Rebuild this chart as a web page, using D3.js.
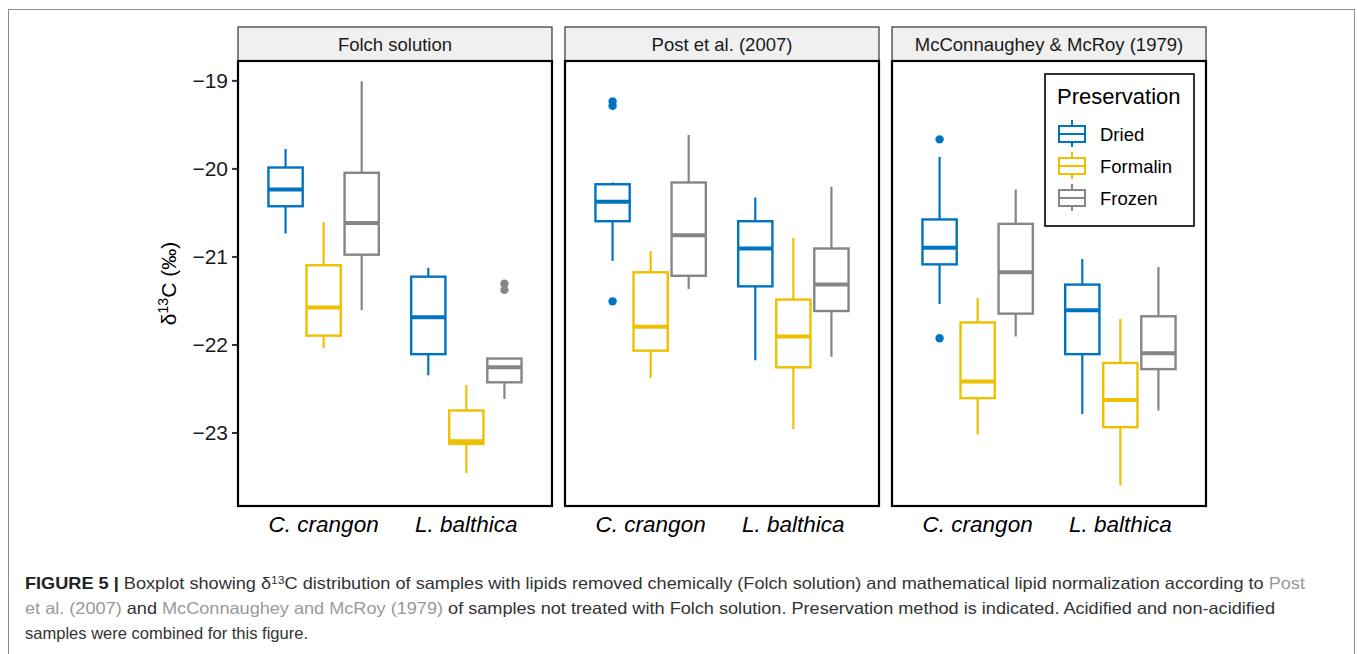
<!DOCTYPE html>
<html lang="en">
    <head>
        <meta charset="utf-8">
        <title>Figure 5 boxplot</title>
        <script src="https://d3js.org/d3.v7.min.js"></script>
        <style type="text/css">
            body { margin: 0; background: #fff; }
            text { font-family: "Liberation Sans", Arial, sans-serif; }
        </style>
    </head>
    <body>
        <script>
            // data
            var methods = ["Folch solution", "Post et al. (2007)", "McConnaughey & McRoy (1979)"];
            var species = ["C. crangon", "L. balthica"];
            var preservations = ["Dried", "Formalin", "Frozen"];
            var colors = ["#0073C2", "#EFC000", "#868686"];
            var yTicks = [-23, -22, -21, -20, -19];

            // [species, preservation, lowerWhisker, q1, median, q3, upperWhisker, outliers]
            var folch = [
                ["C. crangon", "Dried", -20.74, -20.43, -20.24, -19.99, -19.78, []],
                ["C. crangon", "Formalin", -22.04, -21.90, -21.58, -21.10, -20.61, []],
                ["C. crangon", "Frozen", -21.61, -20.98, -20.62, -20.05, -19.01, []],
                ["L. balthica", "Dried", -22.35, -22.11, -21.69, -21.23, -21.13, []],
                ["L. balthica", "Formalin", -23.46, -23.13, -23.10, -22.75, -22.46, []],
                ["L. balthica", "Frozen", -22.62, -22.43, -22.26, -22.16, -22.15, [-21.31, -21.38]]
            ];
            var post = [
                ["C. crangon", "Dried", -21.05, -20.60, -20.38, -20.18, -20.16, [-19.24, -19.29, -21.51]],
                ["C. crangon", "Formalin", -22.38, -22.07, -21.80, -21.18, -20.94, []],
                ["C. crangon", "Frozen", -21.37, -21.22, -20.76, -20.16, -19.62, []],
                ["L. balthica", "Dried", -22.18, -21.34, -20.91, -20.60, -20.33, []],
                ["L. balthica", "Formalin", -22.96, -22.26, -21.91, -21.49, -20.79, []],
                ["L. balthica", "Frozen", -22.14, -21.62, -21.32, -20.91, -20.21, []]
            ];
            var mcconnaughey = [
                ["C. crangon", "Dried", -21.54, -21.09, -20.90, -20.58, -19.87, [-19.67, -21.93]],
                ["C. crangon", "Formalin", -23.02, -22.61, -22.42, -21.75, -21.47, []],
                ["C. crangon", "Frozen", -21.91, -21.65, -21.18, -20.63, -20.24, []],
                ["L. balthica", "Dried", -22.79, -22.11, -21.61, -21.32, -21.03, []],
                ["L. balthica", "Formalin", -23.60, -22.94, -22.63, -22.21, -21.71, []],
                ["L. balthica", "Frozen", -22.75, -22.28, -22.10, -21.68, -21.12, []]
            ];
            var panelData = [folch, post, mcconnaughey];

            // layout
            var outerWidth = 1357;
            var outerHeight = 654;
            var plotLeft = 238, plotRight = 1206;
            var plotTop = 61, plotBottom = 506;
            var stripHeight = 34;

            var svg = d3.select("body")
                        .append("svg")
                        .attr("width", outerWidth)
                        .attr("height", outerHeight);

            // thin figure frame
            svg.append("rect")
                .attr("x", 8.5).attr("y", 9.5)
                .attr("width", 1346).attr("height", 700)
                .attr("fill", "none")
                .attr("stroke", "#8c8c8c")
                .attr("stroke-width", 1);

            var panelScale = d3.scaleBand().domain(methods)
                .range([plotLeft, plotRight]).paddingInner(0.0398);
            var panelWidth = panelScale.bandwidth();

            var yScale = d3.scaleLinear().domain([-23.835, -18.78]).range([plotBottom, plotTop]);
            var xScale = d3.scalePoint().domain(species).range([0, panelWidth]).padding(0.6);
            var step = xScale.step();
            var dodge = d3.scaleBand().domain(preservations)
                .range([-0.4 * step, 0.4 * step]).paddingInner(0.1).paddingOuter(0.05);
            var color = d3.scaleOrdinal().domain(preservations).range(colors);

            methods.forEach(function (m, i) {
                var g = svg.append("g")
                    .attr("transform", "translate(" + panelScale(m) + ",0)");

                // strip
                g.append("rect")
                    .attr("x", 0).attr("y", plotTop - stripHeight)
                    .attr("width", panelWidth).attr("height", stripHeight)
                    .attr("fill", "#f0f0f0")
                    .attr("stroke", "#333")
                    .attr("stroke-width", 1.2);
                g.append("text")
                    .attr("x", panelWidth / 2)
                    .attr("y", plotTop - stripHeight / 2 + 6.5)
                    .attr("text-anchor", "middle")
                    .attr("font-size", 18.5)
                    .attr("fill", "#1a1a1a")
                    .text(m);

                var boxes = g.selectAll("g.box").data(panelData[i]).enter()
                    .append("g").attr("class", "box")
                    .attr("transform", function (d) {
                        return "translate(" + (xScale(d[0]) + dodge(d[1]) + dodge.bandwidth() / 2) + ",0)";
                    });
                var bw = dodge.bandwidth();

                boxes.append("line")
                    .attr("x1", 0).attr("x2", 0)
                    .attr("y1", function (d) { return yScale(d[2]); })
                    .attr("y2", function (d) { return yScale(d[3]); })
                    .attr("stroke", function (d) { return color(d[1]); })
                    .attr("stroke-width", 2.2);
                boxes.append("line")
                    .attr("x1", 0).attr("x2", 0)
                    .attr("y1", function (d) { return yScale(d[5]); })
                    .attr("y2", function (d) { return yScale(d[6]); })
                    .attr("stroke", function (d) { return color(d[1]); })
                    .attr("stroke-width", 2.2);
                boxes.append("rect")
                    .attr("x", -bw / 2)
                    .attr("width", bw)
                    .attr("y", function (d) { return yScale(d[5]); })
                    .attr("height", function (d) { return yScale(d[3]) - yScale(d[5]); })
                    .attr("fill", "#fff")
                    .attr("stroke", function (d) { return color(d[1]); })
                    .attr("stroke-width", 2.4);
                boxes.append("line")
                    .attr("x1", -bw / 2).attr("x2", bw / 2)
                    .attr("y1", function (d) { return yScale(d[4]); })
                    .attr("y2", function (d) { return yScale(d[4]); })
                    .attr("stroke", function (d) { return color(d[1]); })
                    .attr("stroke-width", 4);
                boxes.selectAll("circle")
                    .data(function (d) { return d[7].map(function (v) { return [v, d[1]]; }); })
                    .enter().append("circle")
                    .attr("cx", 0)
                    .attr("cy", function (o) { return yScale(o[0]); })
                    .attr("r", 4.2)
                    .attr("fill", function (o) { return color(o[1]); });

                // panel border
                g.append("rect")
                    .attr("x", 0).attr("y", plotTop)
                    .attr("width", panelWidth).attr("height", plotBottom - plotTop)
                    .attr("fill", "none")
                    .attr("stroke", "#000")
                    .attr("stroke-width", 2.2);

                // x axis labels
                g.selectAll("text.xlab").data(species).enter()
                    .append("text").attr("class", "xlab")
                    .attr("x", function (d) { return xScale(d); })
                    .attr("y", plotBottom + 26)
                    .attr("text-anchor", "middle")
                    .attr("font-size", 22.5)
                    .attr("font-style", "italic")
                    .attr("fill", "#000")
                    .text(function (d) { return d; });
            });

            // y axis
            var yAxis = svg.append("g")
                .attr("transform", "translate(" + (plotLeft - 1) + ",0)")
                .call(d3.axisLeft(yScale).tickValues(yTicks).tickSize(5).tickPadding(4)
                    .tickFormat(function (d) { return "\u2212" + Math.abs(d); }));
            yAxis.select(".domain").remove();
            yAxis.selectAll(".tick line").attr("stroke", "#333").attr("stroke-width", 2);
            yAxis.selectAll(".tick text")
                .attr("font-size", 21)
                .attr("fill", "#1a1a1a")
                .style("font-family", "'Liberation Sans', Arial, sans-serif");

            var yTitle = svg.append("text")
                .attr("transform", "translate(176," + ((plotTop + plotBottom) / 2) + ") rotate(-90)")
                .attr("text-anchor", "middle")
                .attr("font-size", 21)
                .attr("fill", "#000");
            yTitle.append("tspan").text("\u03b4");
            yTitle.append("tspan").attr("dy", -8).attr("font-size", 14).text("13");
            yTitle.append("tspan").attr("dy", 8).text("C (\u2030)");

            // legend
            var lg = svg.append("g");
            lg.append("rect")
                .attr("x", 1045).attr("y", 74)
                .attr("width", 149).attr("height", 152)
                .attr("fill", "#fff")
                .attr("stroke", "#000")
                .attr("stroke-width", 1.6);
            lg.append("text")
                .attr("x", 1057).attr("y", 104)
                .attr("font-size", 22)
                .attr("fill", "#000")
                .text("Preservation");
            var keys = lg.selectAll("g.key").data(preservations).enter()
                .append("g").attr("class", "key")
                .attr("transform", function (d, i) { return "translate(1072," + (134 + i * 32) + ")"; });
            keys.append("line")
                .attr("x1", 0).attr("x2", 0).attr("y1", -14).attr("y2", 13)
                .attr("stroke", function (d) { return color(d); })
                .attr("stroke-width", 2);
            keys.append("rect")
                .attr("x", -13).attr("y", -8).attr("width", 26).attr("height", 16)
                .attr("fill", "#fff")
                .attr("stroke", function (d) { return color(d); })
                .attr("stroke-width", 2);
            keys.append("line")
                .attr("x1", -13).attr("x2", 13).attr("y1", 0).attr("y2", 0)
                .attr("stroke", function (d) { return color(d); })
                .attr("stroke-width", 2);
            keys.append("text")
                .attr("x", 28).attr("y", 6.5)
                .attr("font-size", 18.5)
                .attr("fill", "#000")
                .text(function (d) { return d; });

            // caption
            var capFont = "'Liberation Sans Narrow', 'Liberation Sans', Arial, sans-serif";
            var cap1 = svg.append("text").attr("x", 25).attr("y", 589)
                .attr("font-size", 16.5).attr("fill", "#333")
                .attr("textLength", 1280).attr("lengthAdjust", "spacingAndGlyphs")
                .style("font-family", capFont);
            cap1.append("tspan").attr("font-weight", "bold").attr("fill", "#222").text("FIGURE 5 | ");
            cap1.append("tspan").text("Boxplot showing \u03b4");
            cap1.append("tspan").attr("dy", -5).attr("font-size", 11).text("13");
            cap1.append("tspan").attr("dy", 5).text("C distribution of samples with lipids removed chemically (Folch solution) and mathematical lipid normalization according to ");
            cap1.append("tspan").attr("fill", "#999").text("Post");

            var cap2 = svg.append("text").attr("x", 25).attr("y", 614)
                .attr("font-size", 16.5).attr("fill", "#333")
                .attr("textLength", 1250).attr("lengthAdjust", "spacingAndGlyphs")
                .style("font-family", capFont);
            cap2.append("tspan").attr("fill", "#999").text("et al. (2007)");
            cap2.append("tspan").text(" and ");
            cap2.append("tspan").attr("fill", "#999").text("McConnaughey and McRoy (1979)");
            cap2.append("tspan").text(" of samples not treated with Folch solution. Preservation method is indicated. Acidified and non-acidified");

            svg.append("text").attr("x", 25).attr("y", 638.5)
                .attr("font-size", 16.5).attr("fill", "#333")
                .attr("textLength", 283).attr("lengthAdjust", "spacingAndGlyphs")
                .style("font-family", capFont)
                .text("samples were combined for this figure.");
        </script>
    </body>
</html>
